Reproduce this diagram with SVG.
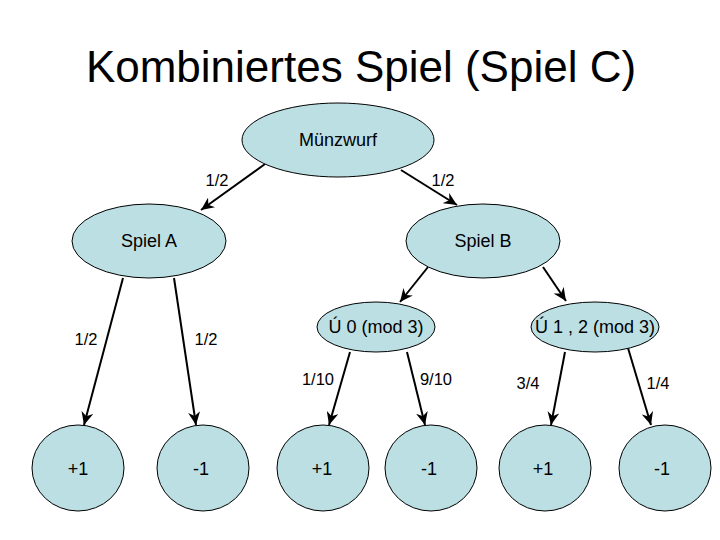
<svg xmlns="http://www.w3.org/2000/svg" width="720" height="540" viewBox="0 0 720 540">
<defs>
<marker id="arr" markerUnits="userSpaceOnUse" markerWidth="14" markerHeight="12" refX="13" refY="6" orient="auto">
<path d="M0,0 L13,6 L0,12 L4,6 z" fill="#000"/>
</marker>
</defs>
<style>
.n{fill:#BBDFE3;stroke:#000;stroke-width:1}
.t{font-family:"Liberation Sans",Arial,sans-serif;font-size:18px;fill:#000;text-anchor:middle}
.l{font-family:"Liberation Sans",Arial,sans-serif;font-size:16.5px;fill:#000;text-anchor:middle}
.e{stroke:#000;stroke-width:2;fill:none;marker-end:url(#arr)}
</style>
<rect width="720" height="540" fill="#fff"/>
<text x="361" y="82" font-family="'Liberation Sans',Arial,sans-serif" font-size="44" text-anchor="middle" fill="#000">Kombiniertes Spiel (Spiel C)</text>
<g id="connectors">
<line class="e" x1="265" y1="164" x2="201" y2="210"/>
<line class="e" x1="401" y1="170" x2="457" y2="205"/>
<line class="e" x1="123" y1="278" x2="84" y2="425"/>
<line class="e" x1="174" y1="278" x2="196" y2="425"/>
<line class="e" x1="428" y1="267" x2="400" y2="302"/>
<line class="e" x1="543" y1="267" x2="566" y2="301"/>
<line class="e" x1="350" y1="352" x2="329" y2="425"/>
<line class="e" x1="407" y1="352" x2="425" y2="425"/>
<line class="e" x1="565" y1="352" x2="551" y2="425"/>
<line class="e" x1="628" y1="348" x2="651" y2="425"/>
<text class="l" x="217" y="186">1/2</text>
<text class="l" x="443" y="186">1/2</text>
<text class="l" x="86" y="345">1/2</text>
<text class="l" x="206" y="345">1/2</text>
<text class="l" x="318" y="385">1/10</text>
<text class="l" x="436" y="385">9/10</text>
<text class="l" x="528" y="389">3/4</text>
<text class="l" x="658" y="389">1/4</text>
</g>
<g id="muenzwurf"><ellipse class="n" cx="338" cy="140" rx="96" ry="37"/><text class="t" x="338" y="146">Münzwurf</text></g>
<g id="spielA"><ellipse class="n" cx="149" cy="241" rx="77" ry="37"/><text class="t" x="149" y="247">Spiel A</text></g>
<g id="spielB"><ellipse class="n" cx="483" cy="241" rx="77" ry="37"/><text class="t" x="483" y="247">Spiel B</text></g>
<g id="mod0"><ellipse class="n" cx="376" cy="327" rx="59" ry="25"/><text class="t" x="376" y="333">Ú 0 (mod 3)</text></g>
<g id="mod12"><ellipse class="n" cx="595" cy="327" rx="64" ry="25"/><text class="t" x="595" y="333">Ú 1 , 2 (mod 3)</text></g>
<g id="leaf1"><ellipse class="n" cx="78" cy="468" rx="46" ry="43"/><text class="t" x="78" y="475">+1</text></g>
<g id="leaf2"><ellipse class="n" cx="203" cy="468" rx="46" ry="43"/><text class="t" x="201" y="475">-1</text></g>
<g id="leaf3"><ellipse class="n" cx="323" cy="468" rx="46" ry="43"/><text class="t" x="322" y="475">+1</text></g>
<g id="leaf4"><ellipse class="n" cx="431" cy="468" rx="46" ry="43"/><text class="t" x="429" y="475">-1</text></g>
<g id="leaf5"><ellipse class="n" cx="545" cy="468" rx="46" ry="43"/><text class="t" x="543" y="475">+1</text></g>
<g id="leaf6"><ellipse class="n" cx="665" cy="468" rx="46" ry="43"/><text class="t" x="662" y="475">-1</text></g>
</svg>
